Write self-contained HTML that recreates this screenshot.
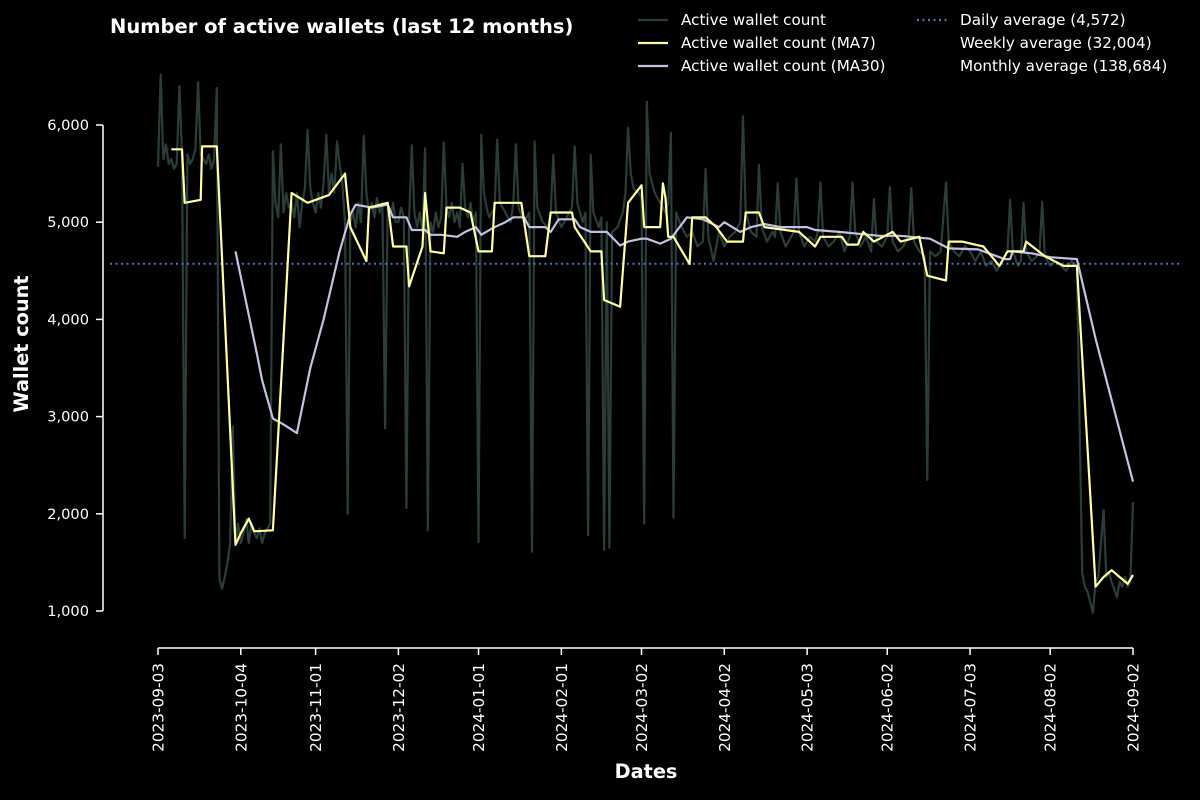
<!DOCTYPE html>
<html><head><meta charset="utf-8"><style>
html,body{margin:0;padding:0;background:#000;}
svg{display:block;font-family:"DejaVu Sans","Liberation Sans",sans-serif;}
</style></head><body>
<svg id="chart" width="1200" height="800" viewBox="0 0 1200 800" xmlns="http://www.w3.org/2000/svg">
<rect width="1200" height="800" fill="#000"/>
<text x="110" y="33" fill="#fff" font-size="19.5" font-weight="bold">Number of active wallets (last 12 months)</text>
<text transform="translate(28,344) rotate(-90)" text-anchor="middle" fill="#fff" font-size="19.3" font-weight="bold">Wallet count</text>
<text x="646" y="778" text-anchor="middle" fill="#fff" font-size="19.3" font-weight="bold">Dates</text>
<g id="axes"></g>
<g id="plot"></g>
<g id="legend">
<line x1="638" y1="20" x2="668" y2="20" stroke="#2b3d38" stroke-width="2.2"/>
<text x="681" y="25" fill="#fff" font-size="15.2">Active wallet count</text>
<line x1="638" y1="43" x2="668" y2="43" stroke="#ffffa0" stroke-width="2.2"/>
<text x="681" y="48" fill="#fff" font-size="15.2">Active wallet count (MA7)</text>
<line x1="638" y1="66" x2="668" y2="66" stroke="#c4c0e4" stroke-width="2.2"/>
<text x="681" y="71" fill="#fff" font-size="15.2">Active wallet count (MA30)</text>
<line x1="917" y1="20" x2="947" y2="20" stroke="#4c72b0" stroke-width="2.2" stroke-dasharray="2,3.5"/>
<text x="960" y="25" fill="#fff" font-size="15.2">Daily average (4,572)</text>
<text x="960" y="48" fill="#fff" font-size="15.2">Weekly average (32,004)</text>
<text x="960" y="71" fill="#fff" font-size="15.2">Monthly average (138,684)</text>
</g>
</svg>
<script>
const yTicks=[1000,2000,3000,4000,5000,6000];
const yTickLabels=["1,000","2,000","3,000","4,000","5,000","6,000"];
const xTickDays=[0,31,59,90,120,151,181,212,243,273,304,334,365];
const xTickLabels=["2023-09-03","2023-10-04","2023-11-01","2023-12-02","2024-01-01","2024-02-01","2024-03-02","2024-04-02","2024-05-03","2024-06-02","2024-07-03","2024-08-02","2024-09-02"];
const dailyAverage=4572;
const dailyDays=[0,1,2,3,4,5,6,7,8,9,10,11,12,13,14,15,16,17,18,19,20,21,22,23,24,25,26,27,28,29,30,31,32,33,34,35,36,37,38,39,40,41,42,43,44,45,46,47,48,49,50,51,52,53,54,55,56,57,58,59,60,61,62,63,64,65,66,67,68,69,70,71,72,73,74,75,76,77,78,79,80,81,82,83,84,85,86,87,88,89,90,91,92,93,94,95,96,97,98,99,100,101,102,103,104,105,106,107,108,109,110,111,112,113,114,115,116,117,118,119,120,121,122,123,124,126,127,128,130,132,133,134,135,137,139,140,141,142,144,146,147,148,149,151,153,155,156,157,159,160,161,162,163,165,166,167,168,169,170,172,174,175,176,177,178,180,181,182,183,184,186,188,190,191,192,193,194,196,198,200,202,204,205,206,208,210,212,214,216,218,219,220,222,224,225,226,228,230,231,232,233,235,237,238,239,240,242,244,246,247,248,249,251,253,255,257,259,260,261,263,265,267,268,269,271,273,274,275,277,279,281,282,283,285,287,288,289,291,293,295,296,298,300,302,304,306,308,310,312,314,316,318,319,320,322,323,324,325,327,329,330,331,332,334,336,338,340,342,344,346,347,348,350,351,352,354,355,356,357,359,360,361,362,363,364,365];
const dailyVals=[5570,6520,5650,5800,5600,5650,5550,5600,6400,5700,1750,5700,5600,5650,5750,6440,5700,5650,5600,5700,5550,5650,6380,1330,1230,1350,1500,1700,2900,1700,1900,1700,1800,1950,1700,1900,1800,1750,1850,1700,1800,1850,1900,5730,5200,5050,5800,5100,5300,5150,5200,5050,5300,4950,5200,5350,5950,5350,5200,5100,5300,5150,5400,5900,5300,5500,5300,5830,5600,5400,5000,2000,5000,5100,4950,5200,5000,5890,5300,5100,5200,5050,5250,5100,5200,2880,5150,5050,5200,5000,5000,5150,5050,2060,5050,5790,5100,4950,5100,4900,5760,1830,5000,4900,5100,4950,5050,5820,5150,5050,5200,5000,5100,4950,5600,5150,5050,5200,5000,5100,1710,5900,5300,5150,5050,5150,5850,5200,5100,5000,5200,5800,5150,5000,5100,1610,5830,5150,5000,4950,5100,5690,5100,4950,5050,5150,5780,5200,5000,5100,1780,5690,5100,4950,5050,1630,5000,1650,4900,4950,5100,5300,5970,5500,5350,5300,5250,1900,6240,5500,5300,5200,5100,5200,5920,1960,5100,4950,4850,4900,4750,4800,5550,4850,4600,4900,4750,4850,4900,5000,6090,5100,4900,4850,5590,4950,4800,4900,4850,5400,4900,4750,4850,4900,5450,4900,4750,4850,4800,4900,5410,4850,4750,4800,4900,4700,4850,5410,4900,4750,4850,4700,5240,4800,4750,4850,5360,4800,4700,4750,4850,5350,4800,4700,4650,2350,4700,4650,4700,5410,4800,4700,4650,4750,4700,4600,4700,4550,4600,4500,4600,4700,5230,4700,4550,4600,5200,4700,4600,4650,4700,5210,4650,4550,4600,4550,4500,4600,4550,1390,1250,1200,980,1300,1350,2040,1350,1400,1300,1140,1300,1250,1350,1250,1300,2120];
const ma7Days=[5,9,10,16,16.5,22,29,31,34,36,43,50,56,64,70,72,78,79,86,88,93,94,99,100,102,107,108,113,117,120,125,126,136,139,145,147,155,156,162,166,167,173,176,181,182,188,189,190,191,193,199,200,205,209,213,219,220,225,227,240,246,248,256,258,262,264,268,275,278,285,288,295,296,301,309,312,315,318,324,325,332,339,344,351,354,357,360,363,365];
const ma7Vals=[5750,5750,5200,5230,5780,5780,1680,1800,1950,1820,1830,5300,5200,5280,5500,4950,4600,5150,5200,4750,4750,4340,4750,5300,4700,4680,5150,5150,5100,4700,4700,5200,5200,4650,4650,5100,5100,4950,4700,4700,4200,4130,5200,5380,4950,4950,5400,5250,4850,4850,4570,5050,5050,4950,4800,4800,5100,5100,4950,4900,4750,4850,4850,4770,4770,4900,4800,4900,4800,4850,4450,4400,4800,4800,4750,4650,4550,4700,4700,4800,4650,4550,4550,1250,1350,1420,1350,1280,1370];
const ma30Days=[29,37,39,43,47,52,57,62,68,72,74,80,86,88,93,95,100,102,106,112,115,119,121,126,130,133,137,139,145,147,150,156,158,162,168,173,176,181,183,188,192,198,204,210,212,218,222,227,233,238,243,246,255,270,278,289,296,307,311,317,319,320,327,334,344,351,365];
const ma30Vals=[4700,3650,3370,2980,2920,2830,3500,4000,4700,5080,5180,5150,5180,5050,5050,4920,4920,4870,4870,4850,4900,4950,4870,4950,5000,5050,5050,4950,4950,4900,5030,5030,4950,4900,4900,4760,4800,4830,4830,4780,4830,5050,5030,4950,5000,4900,4950,4980,4950,4950,4950,4920,4900,4860,4860,4830,4730,4720,4680,4620,4620,4700,4680,4640,4620,3800,2330];

const NS="http://www.w3.org/2000/svg";
const X0=158,X1=1133,D0=0,D1=365;
const Y0=611,Y1=125,V0=1000,V1=6000;
function xs(d){return X0+(d-D0)*(X1-X0)/(D1-D0);}
function ys(v){return Y0-(v-V0)*(Y0-Y1)/(V1-V0);}
function mk(tag,attrs,parent){const e=document.createElementNS(NS,tag);for(const k in attrs)e.setAttribute(k,attrs[k]);parent.appendChild(e);return e;}
const axes=document.getElementById('axes'),plot=document.getElementById('plot');

const ySpine=mk('line',{x1:103,y1:ys(V1),x2:103,y2:ys(V0),stroke:'#fff','stroke-width':1.5},axes);


yTicks.forEach((v,i)=>{
  const t=mk('line',{x1:96,y1:ys(v),x2:103,y2:ys(v),stroke:'#fff','stroke-width':1.5},axes);
  
  
  const l=mk('text',{x:89,y:ys(v)+5,'text-anchor':'end',fill:'#fff','font-size':14.6},axes);
  l.textContent=yTickLabels[i];
  
  
});
const xSpine=mk('line',{x1:xs(D0),y1:648,x2:xs(D1),y2:648,stroke:'#fff','stroke-width':1.5},axes);


xTickDays.forEach((d,i)=>{
  const t=mk('line',{x1:xs(d),y1:648,x2:xs(d),y2:655,stroke:'#fff','stroke-width':1.5},axes);
  
  
  const l=mk('text',{transform:`translate(${xs(d)+5.5},663) rotate(-90)`,'text-anchor':'end',fill:'#fff','font-size':15.3},axes);
  l.textContent=xTickLabels[i];
  
  
});
function line(days,vals,color,w,name){
  const p=mk('polyline',{points:days.map((d,i)=>xs(d).toFixed(1)+','+ys(vals[i]).toFixed(1)).join(' '),fill:'none',stroke:color,'stroke-width':w,'stroke-linejoin':'round'},plot);
  
  
}
line(dailyDays,dailyVals,'#2b3d38',2.2,'daily-count-line');
const avg=mk('line',{x1:110,y1:ys(dailyAverage),x2:1180,y2:ys(dailyAverage),stroke:'#4c72b0','stroke-width':2,'stroke-dasharray':'2,3.5'},plot);


line(ma30Days,ma30Vals,'#c4c0e4',2.2,'ma30-line');
line(ma7Days,ma7Vals,'#ffffa0',2.2,'ma7-line');
</script>
</body></html>
